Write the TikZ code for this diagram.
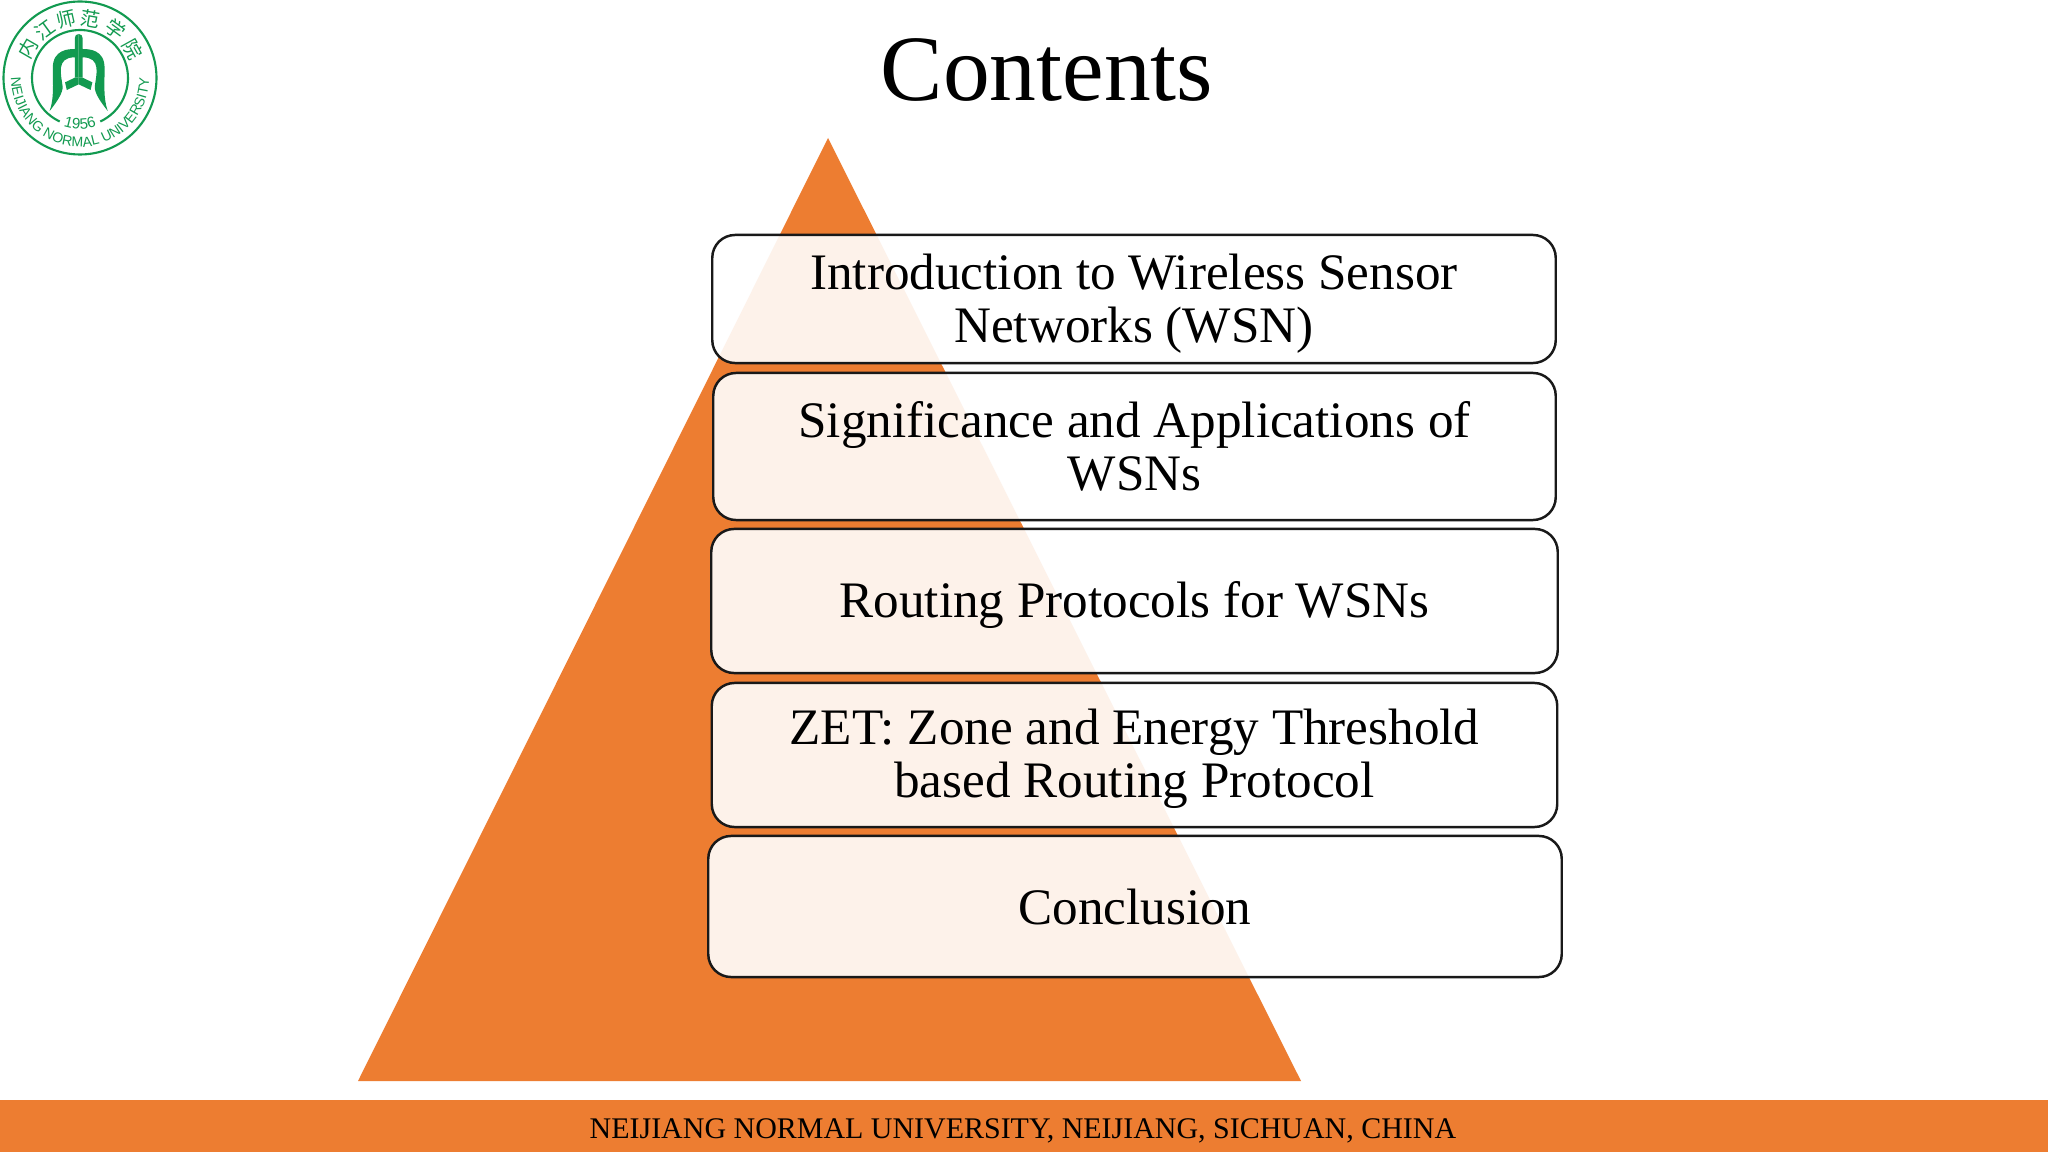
\documentclass[tikz,border=0pt]{standalone}
\usepackage{fontspec}
\setmainfont{Liberation Serif}
\setsansfont{Liberation Sans}
\newfontfamily\cjk{Noto Sans CJK SC}
\usetikzlibrary{decorations.text}
\definecolor{slideorange}{HTML}{ED7D31}
\definecolor{sealgreen}{HTML}{129A50}
\newcommand{\lift}[1]{\rule{0pt}{#1}}
\begin{document}
\begin{tikzpicture}[
  x=0.01cm, y=-0.01cm,
  item/.style={rectangle, draw=black!90!white, line width=0.7pt, fill=white, fill opacity=0.9,
               text opacity=1, rounded corners=6.5pt, align=center, inner sep=0pt,
               font=\fontsize{14.55}{15.2}\selectfont},
  seal/.style={draw=sealgreen, line width=0.6pt},
  sealchar/.style={text=sealgreen, inner sep=0pt, font=\cjk\fontsize{5.5}{5.5}\selectfont}
]
\useasboundingbox (0,0) rectangle (2048,1152);
\fill[white] (0,0) rectangle (2048,1152);
% pyramid and footer
\fill[slideorange] (828,138) -- (1301,1081) -- (358,1081) -- cycle;
\fill[slideorange] (0,1100) rectangle (2048,1152);
\node[inner sep=0pt] (title) at (1047,70) {\fontsize{26.6}{30}\selectfont Contents};
\node[inner sep=0pt] (footer) at (1023,1130.5) {\fontsize{8.52}{10}\selectfont NEIJIANG NORMAL UNIVERSITY, NEIJIANG, SICHUAN, CHINA};
% boxes
\node[item, minimum width=8.43cm, minimum height=1.28cm] (intro) at (1134,299) {\lift{12.9pt}Introduction to Wireless Sensor\\Networks (WSN)};
\node[item, minimum width=8.42cm, minimum height=1.47cm] (apps) at (1134.5,446.5) {Significance and Applications of\\WSNs};
\node[item, minimum width=8.46cm, minimum height=1.44cm] (routing) at (1134.5,601) {\lift{12.8pt}Routing Protocols for WSNs};
\node[item, minimum width=8.45cm, minimum height=1.44cm] (zet) at (1134.5,755) {\lift{12.1pt}ZET: Zone and Energy Threshold\\based Routing Protocol};
\node[item, minimum width=8.53cm, minimum height=1.41cm] (concl) at (1135,906.5) {Conclusion};
% seal
\begin{scope}[shift={(80,78)}]
  \draw[seal] (0,0) circle[radius=76.5];
  \draw[seal] (115:48) arc[start angle=115, end angle=425, radius=48];
  \foreach \ch/\ang in {内/150,江/126,师/103,范/80,学/54,院/29}
    \node[sealchar, rotate=\ang-90] (c\ang) at (-\ang:60) {\ch};
  \path[decorate, decoration={text along path, text align=center,
      text={|\sffamily\fontsize{4}{4}\selectfont\color{sealgreen}|NEIJIANG NORMAL UNIVERSITY}}]
    (183:69) arc[start angle=183, end angle=-3, radius=69];
  \path[decorate, decoration={text along path, text align=center,
      text={|\sffamily\fontsize{4.3}{4.3}\selectfont\color{sealgreen}|1956}}]
    (150:51) arc[start angle=150, end angle=30, radius=51];
  % emblem, both halves
  \foreach \sx in {1,-1} {
    \begin{scope}[shift={(-1.3,0)}, xscale=\sx*1.05/3, yscale=1/3]
      \fill[sealgreen] (0,-132) .. controls (-7,-132) and (-11,-127) .. (-11,-120) -- (-11,-87)
        .. controls (-30,-87) and (-74,-85) .. (-74,-30)
        .. controls (-74,20) and (-70,60) .. (-83,99)
        .. controls (-65,75) and (-44,45) .. (-46,25)
        .. controls (-50,-10) and (-66,-62) .. (-11,-62) -- (-11,-1) -- (0,-1) -- cycle;
      \fill[sealgreen] (-39,13) -- (-34,36) -- (0,19) -- (0,-1) -- (-11,-1) -- cycle;
    \end{scope}
  }
\end{scope}
\end{tikzpicture}
\end{document}
